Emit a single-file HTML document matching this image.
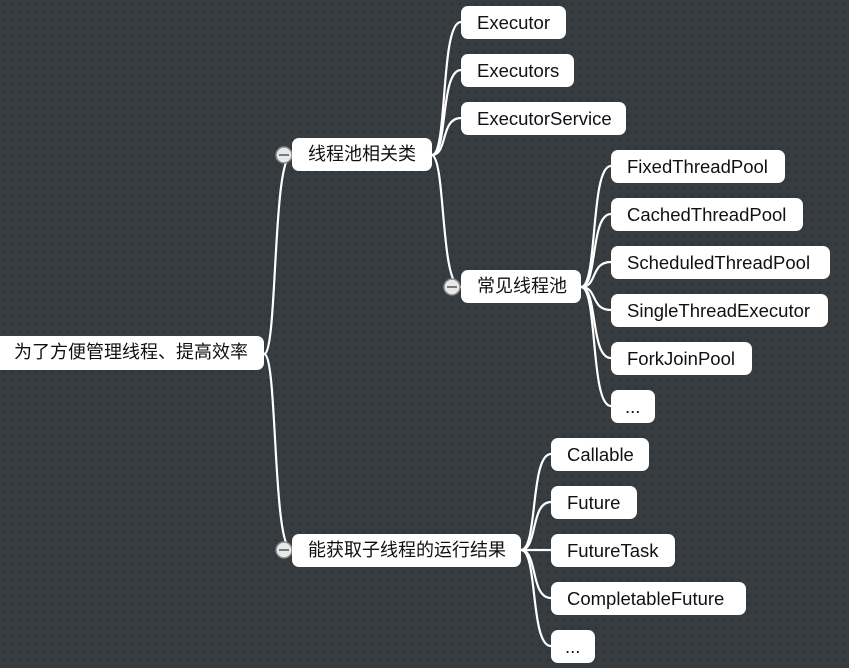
<!DOCTYPE html>
<html><head><meta charset="utf-8"><style>
html,body{margin:0;padding:0}
body{width:849px;height:668px;overflow:hidden;position:relative;background-color:#373c40;background-image:radial-gradient(circle,#2c3033 1px,transparent 1.3px);background-size:8px 8px;font-family:"Liberation Sans","Noto Sans CJK SC",sans-serif}
.n{position:absolute;background:#fff;border-radius:7px;color:#111;font-size:18px;line-height:33px;height:33px;box-sizing:border-box;padding-left:16px;white-space:nowrap}
.l{font-size:18.5px}
svg{position:absolute;left:0;top:0}
</style></head><body>
<svg width="849" height="668">
<g fill="none" stroke="#fff" stroke-width="2.2">
<path d="M264,354 C278,354 272,155 292,155"/>
<path d="M264,354 C278,354 272,550 292,550"/>
<path d="M432,155 C448,155 440,22 461,22"/>
<path d="M432,155 C448,155 440,70 461,70"/>
<path d="M432,155 C448,155 440,118 461,118"/>
<path d="M432,155 C446,160 440,287 461,287"/>
<path d="M581,287 C598,287 590,166 611,166"/>
<path d="M581,287 C598,287 590,214 611,214"/>
<path d="M581,287 C598,287 590,262 611,262"/>
<path d="M581,287 C598,287 590,310 611,310"/>
<path d="M581,287 C598,287 590,358 611,358"/>
<path d="M581,287 C598,287 590,406 611,406"/>
<path d="M521,550 C538,550 530,454 551,454"/>
<path d="M521,550 C538,550 530,502 551,502"/>
<path d="M521,550 C538,550 530,550 551,550"/>
<path d="M521,550 C538,550 530,598 551,598"/>
<path d="M521,550 C538,550 530,646 551,646"/>
</g>
<g stroke="#888" stroke-width="1.5" fill="#e8e8e8">
<circle cx="284" cy="155" r="8"/><circle cx="452" cy="287" r="8"/><circle cx="284" cy="550" r="8"/>
</g>
<g stroke="#555" stroke-width="1.5">
<line x1="279" y1="155" x2="289" y2="155"/><line x1="447" y1="287" x2="457" y2="287"/><line x1="279" y1="550" x2="289" y2="550"/>
</g>
</svg>
<div class="n" style="left:-8px;top:336px;width:272px;height:34px;padding-left:22px">为了方便管理线程、提高效率</div>
<div class="n" style="left:292px;top:138px;width:140px">线程池相关类</div>
<div class="n l" style="left:461px;top:6px;width:105px">Executor</div>
<div class="n l" style="left:461px;top:54px;width:113px">Executors</div>
<div class="n l" style="left:461px;top:102px;width:165px">ExecutorService</div>
<div class="n" style="left:461px;top:270px;width:120px">常见线程池</div>
<div class="n l" style="left:611px;top:150px;width:174px">FixedThreadPool</div>
<div class="n l" style="left:611px;top:198px;width:192px">CachedThreadPool</div>
<div class="n l" style="left:611px;top:246px;width:219px">ScheduledThreadPool</div>
<div class="n l" style="left:611px;top:294px;width:217px">SingleThreadExecutor</div>
<div class="n l" style="left:611px;top:342px;width:141px">ForkJoinPool</div>
<div class="n l" style="left:611px;top:390px;width:44px;padding-left:14px">...</div>
<div class="n" style="left:292px;top:534px;width:229px">能获取子线程的运行结果</div>
<div class="n l" style="left:551px;top:438px;width:98px">Callable</div>
<div class="n l" style="left:551px;top:486px;width:86px">Future</div>
<div class="n l" style="left:551px;top:534px;width:124px">FutureTask</div>
<div class="n l" style="left:551px;top:582px;width:195px">CompletableFuture</div>
<div class="n l" style="left:551px;top:630px;width:44px;padding-left:14px">...</div>
</body></html>
